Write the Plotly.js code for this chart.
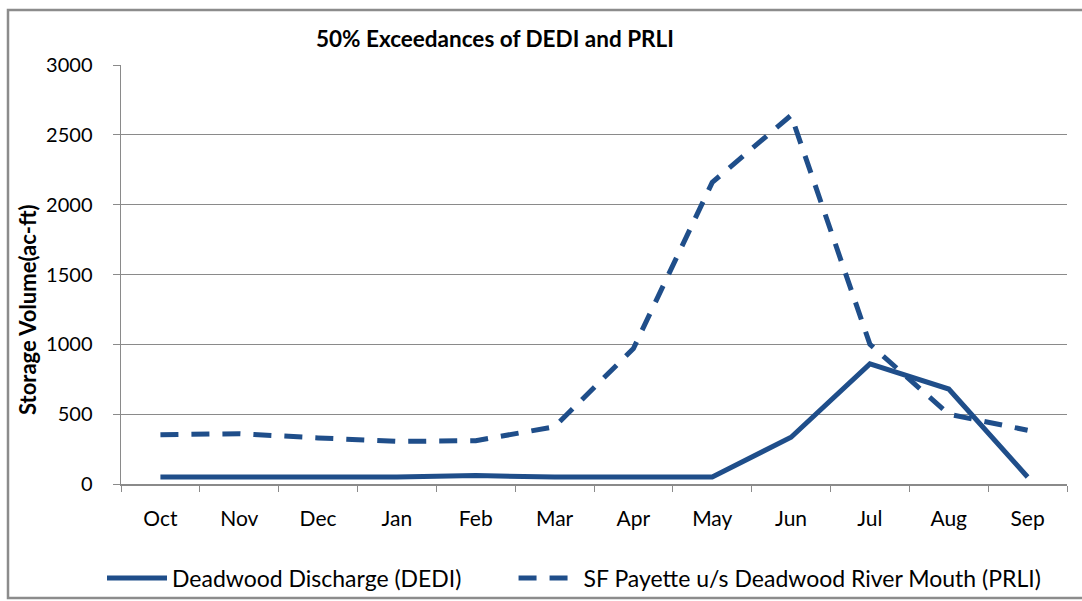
<!DOCTYPE html>
<html>
<head>
<meta charset="utf-8">
<script src="https://cdn.plot.ly/plotly-3.0.1.min.js"></script>
<style>html,body{margin:0;padding:0;background:#fff;}#chart{width:1082px;height:601px;}</style>
</head>
<body>
<div id="chart"></div>
<script>
const months = ["Oct","Nov","Dec","Jan","Feb","Mar","Apr","May","Jun","Jul","Aug","Sep"];
const dediValues = [50, 50, 50, 50, 60, 50, 50, 50, 335, 860, 680, 50];
const prliValues = [353, 360, 330, 305, 310, 410, 970, 2160, 2640, 1000, 500, 385];
const seriesNames = ["Deadwood Discharge (DEDI)", "SF Payette u/s Deadwood River Mouth (PRLI)"];
const yTicks = [0, 500, 1000, 1500, 2000, 2500, 3000];

const blue = "#1F4E8A";
const grid = "#8A8A8A";
const font = "Lato, 'Open Sans', sans-serif";
const pad = "\u00a0".repeat(8);

const traces = [
  {x: months, y: dediValues, name: seriesNames[0] + pad, type: "scatter", mode: "lines",
   line: {color: blue, width: 5}},
  {x: months, y: prliValues, name: seriesNames[1], type: "scatter", mode: "lines",
   line: {color: blue, width: 5, dash: "18px,13px"}}
];

const layout = {
  width: 1082, height: 601,
  margin: {l: 121, r: 15, t: 65, b: 117, autoexpand: false},
  paper_bgcolor: "#fff", plot_bgcolor: "#fff",
  font: {family: font, color: "#000", size: 21},
  showlegend: true,
  legend: {orientation: "h", x: (102 - 121) / 946, xanchor: "left",
           y: (484 - 578) / 419, yanchor: "middle",
           font: {size: 23, family: font}, itemwidth: 60, bgcolor: "rgba(0,0,0,0)"},
  xaxis: {type: "category", range: [-0.5, 11.5], tickson: "boundaries",
          ticks: "outside", ticklen: 6, tickcolor: grid, tickwidth: 1,
          showline: true, linecolor: grid, linewidth: 1.5, showgrid: false, zeroline: false,
          ticklabelstandoff: 15, tickfont: {size: 21, family: font}},
  yaxis: {range: [0, 3000], tickvals: yTicks, ticktext: yTicks.map(String),
          ticks: "outside", ticklen: 7, tickcolor: grid, tickwidth: 1,
          showline: true, linecolor: grid, linewidth: 1.5,
          showgrid: true, gridcolor: grid, gridwidth: 1.2, zeroline: false,
          ticklabelstandoff: 16, tickfont: {size: 20, family: font}},
  annotations: [
    {text: "<b>50% Exceedances of DEDI and PRLI</b>", xref: "paper", yref: "paper",
     x: (495 - 121) / 946, y: (484 - 38) / 419, xanchor: "center", yanchor: "middle",
     showarrow: false, font: {size: 22.5, family: font, color: "#000"}},
    {text: "<b>Storage Volume(ac-ft)</b>", xref: "paper", yref: "paper",
     x: (27 - 121) / 946, y: (484 - 310) / 419, xanchor: "center", yanchor: "middle",
     textangle: -90, showarrow: false, font: {size: 22, family: font, color: "#000"}}
  ],
  shapes: [
    {type: "rect", xref: "paper", yref: "paper",
     x0: (8 - 121) / 946, x1: (1090 - 121) / 946,
     y0: (484 - 598) / 419, y1: (484 - 10) / 419,
     line: {color: "#8C8C8C", width: 2.5}, fillcolor: "rgba(0,0,0,0)", layer: "below"}
  ]
};

Plotly.newPlot("chart", traces, layout, {displayModeBar: false, staticPlot: true});
</script>
</body>
</html>
